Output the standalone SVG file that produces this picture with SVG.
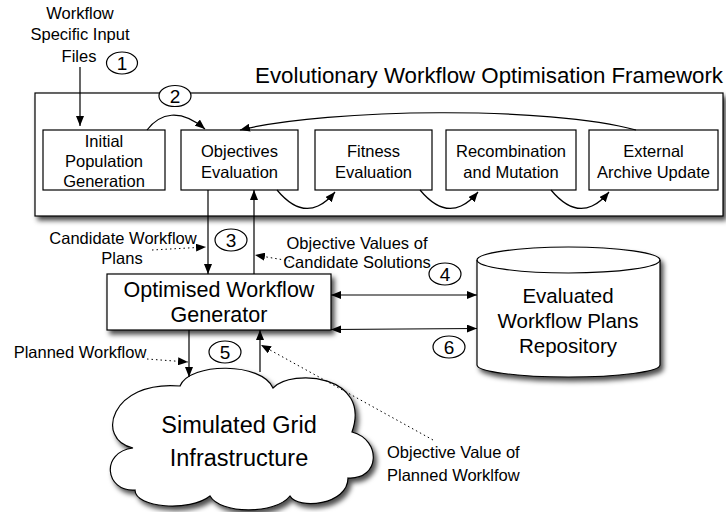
<svg xmlns="http://www.w3.org/2000/svg" width="726" height="512" viewBox="0 0 726 512">
<defs>
<style>
text{font-family:"Liberation Sans",Arial,Helvetica,sans-serif;fill:#000}
.c{text-anchor:middle}
.box{fill:#fff;stroke:#000;stroke-width:1.2}
.ln{fill:none;stroke:#000;stroke-width:1.2}
.dot{fill:none;stroke:#000;stroke-width:1;stroke-dasharray:1.5 3}
.num{fill:#fff;stroke:#000;stroke-width:1.2}
.s16{font-size:16.5px}
.s19{font-size:19px}
</style>
<filter id="sh" x="-10%" y="-10%" width="125%" height="130%">
<feDropShadow dx="3" dy="4" stdDeviation="2.5" flood-color="#000" flood-opacity="0.7"/>
</filter>
<marker id="ah" viewBox="0 0 10 8" refX="10" refY="4" markerWidth="10" markerHeight="8" markerUnits="userSpaceOnUse" orient="auto-start-reverse">
<path d="M0,0 L10,4 L0,8 Z" fill="#000"/>
</marker>
</defs>

<g id="framework">
<rect class="box" x="35" y="93" width="688" height="123" filter="url(#sh)"/>
<text x="489" y="83" class="c" style="font-size:22.3px">Evolutionary Workflow Optimisation Framework</text>
</g>

<g id="initial-population">
<rect class="box" x="43" y="130" width="122" height="60"/>
<text class="c s16" x="104" y="147">Initial</text>
<text class="c s16" x="104" y="167">Population</text>
<text class="c s16" x="104" y="187">Generation</text>
</g>
<g id="objectives-evaluation">
<rect class="box" x="181" y="130" width="117" height="60"/>
<text class="c s16" x="239.5" y="157">Objectives</text>
<text class="c s16" x="239.5" y="178">Evaluation</text>
</g>
<g id="fitness-evaluation">
<rect class="box" x="315" y="130" width="117" height="60"/>
<text class="c s16" x="373.5" y="157">Fitness</text>
<text class="c s16" x="373.5" y="178">Evaluation</text>
</g>
<g id="recombination">
<rect class="box" x="446" y="130" width="130" height="60"/>
<text class="c s16" x="511" y="157">Recombination</text>
<text class="c s16" x="511" y="178">and Mutation</text>
</g>
<g id="archive-update">
<rect class="box" x="589" y="130" width="129" height="60"/>
<text class="c s16" x="653.5" y="157">External</text>
<text class="c s16" x="653.5" y="178">Archive Update</text>
</g>

<g id="generator">
<rect class="box" x="107" y="274" width="224" height="56" filter="url(#sh)"/>
<text class="c" style="font-size:21.5px" x="219" y="297">Optimised Workflow</text>
<text class="c" style="font-size:21.5px" x="219" y="322">Generator</text>
</g>

<g id="repository">
<path class="box" filter="url(#sh)" d="M477,260 L477,365 A91.5,12 0 0 0 660,365 L660,260 A91.5,13 0 0 0 477,260 Z"/>
<path class="ln" d="M477,260 A91.5,13 0 0 0 660,260"/>
<text class="c" style="font-size:20.5px" x="568" y="303">Evaluated</text>
<text class="c" style="font-size:20.5px" x="568" y="328">Workflow Plans</text>
<text class="c" style="font-size:20.5px" x="568" y="353">Repository</text>
</g>

<g id="grid">
<path class="box" filter="url(#sh)" d="M180,386 C190,362 262,362 273,388 C292,368 372,375 352,432 C382,440 380,480 348,478 C348,505 298,510 290,496 C275,515 220,514 210,496 C190,512 135,508 135,490 C105,492 100,452 133,448 C95,440 110,380 180,386 Z"/>
<text class="c" style="font-size:23.5px" x="239" y="433">Simulated Grid</text>
<text class="c" style="font-size:23.5px" x="239" y="466">Infrastructure</text>
</g>

<g id="labels">
<text class="c s16" x="80" y="19">Workflow</text>
<text class="c s16" x="80" y="40">Specific Input</text>
<text class="c s16" x="79" y="62">Files</text>
<text class="c s16" x="123" y="244">Candidate Workflow</text>
<text class="c s16" x="122" y="264">Plans</text>
<text class="c s16" x="357" y="249">Objective Values of</text>
<text class="c s16" x="357" y="268">Candidate Solutions</text>
<text class="c s16" x="80" y="358">Planned Workflow</text>
<text class="s16" x="387" y="458">Objective Value of</text>
<text class="s16" x="387" y="481">Planned Worklfow</text>
</g>

<g id="connectors">
<line class="ln" x1="80" y1="67" x2="80" y2="126" marker-end="url(#ah)"/>
<path class="ln" d="M147,130 C160,113 180,108 205,129" marker-end="url(#ah)"/>
<path class="ln" d="M636,130 C550,106 330,108 240,130" marker-end="url(#ah)"/>
<path class="ln" d="M277,190 C292,208 305,212 318,206 C325,203 330,198 335,192" marker-end="url(#ah)"/>
<path class="ln" d="M420,190 C435,208 448,212 461,206 C468,203 473,198 478,192" marker-end="url(#ah)"/>
<path class="ln" d="M551,190 C566,208 579,212 592,206 C599,203 604,198 609,192" marker-end="url(#ah)"/>
<line class="ln" x1="208" y1="190" x2="208" y2="274" marker-end="url(#ah)"/>
<line class="ln" x1="254" y1="274" x2="254" y2="190" marker-end="url(#ah)"/>
<line class="ln" x1="331" y1="295" x2="477" y2="295" marker-start="url(#ah)" marker-end="url(#ah)"/>
<line class="ln" x1="331" y1="329.5" x2="477" y2="328.5" marker-start="url(#ah)" marker-end="url(#ah)"/>
<line class="ln" x1="189" y1="330" x2="189" y2="377" marker-end="url(#ah)"/>
<line class="ln" x1="260" y1="372" x2="260" y2="330" marker-end="url(#ah)"/>
<line class="dot" x1="152" y1="250" x2="206" y2="247" marker-end="url(#ah)"/>
<line class="dot" x1="290" y1="261" x2="255" y2="255" marker-end="url(#ah)"/>
<line class="dot" x1="147" y1="359" x2="188" y2="362" marker-end="url(#ah)"/>
<line class="dot" x1="433" y1="440" x2="261" y2="345" marker-end="url(#ah)"/>
</g>

<g id="numbers">
<g id="n1"><ellipse class="num" cx="122" cy="63" rx="15.5" ry="11"/><text class="c s19" x="122" y="70">1</text></g>
<g id="n2"><ellipse class="num" cx="175" cy="96" rx="16" ry="10.5"/><text class="c s19" x="175" y="103">2</text></g>
<g id="n3"><ellipse class="num" cx="231" cy="240" rx="16" ry="11"/><text class="c s19" x="231" y="247">3</text></g>
<g id="n4"><ellipse class="num" cx="445" cy="274" rx="16" ry="11"/><text class="c s19" x="445" y="281">4</text></g>
<g id="n5"><ellipse class="num" cx="225" cy="352" rx="16" ry="11"/><text class="c s19" x="225" y="359">5</text></g>
<g id="n6"><ellipse class="num" cx="449" cy="347" rx="16" ry="11"/><text class="c s19" x="449" y="354">6</text></g>
</g>
</svg>
